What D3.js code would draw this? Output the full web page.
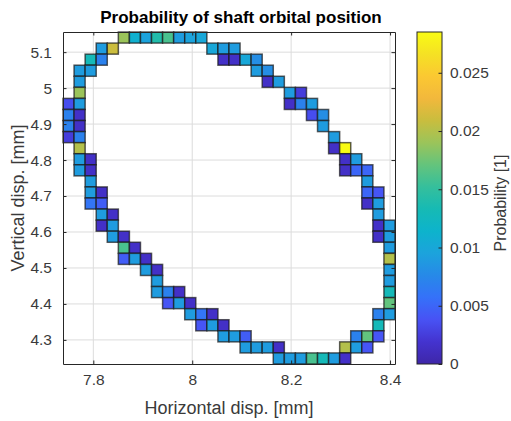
<!DOCTYPE html>
<html>
<head>
<meta charset="utf-8">
<script src="https://cdn.jsdelivr.net/npm/d3@7"></script>
<style>
	body{margin:0; background:#fff;}
	svg text{font-family:'Liberation Sans', Arial, sans-serif;}
</style>
</head>
<body>
<div id="chart"></div>
<script>
// histogram bins (30 x 30) of shaft centre position
const xEdgeFirst = 7.7387, xBinWidth = 0.022377;
const yEdgeFirst = 4.2330, yBinWidth = 0.030767;

// column index, row index (from bottom) and probability of each non-empty bin
const binCol = [
	5, 6, 7, 8, 9, 10, 11, 12,
	3, 4, 13, 14, 15,
	2, 3, 14, 15, 16, 17,
	1, 2, 17, 18,
	1, 18, 19,
	1, 20, 21,
	0, 1, 20, 21, 22,
	0, 1, 22, 23,
	0, 1, 23,
	0, 1, 24,
	1, 24, 25,
	1, 2, 25, 26,
	1, 2, 25, 26, 27,
	2, 27,
	2, 3, 27, 28,
	2, 3, 27, 28,
	3, 4, 28,
	3, 4, 28, 29,
	4, 5, 28, 29,
	5, 6, 29,
	5, 6, 7, 29,
	7, 8, 29,
	8, 29,
	8, 9, 10, 29,
	9, 10, 11, 29,
	11, 12, 13, 28, 29,
	12, 13, 14, 28,
	14, 15, 16, 26, 27, 28,
	16, 17, 18, 19, 25, 26, 27,
	19, 20, 21, 22, 23, 24, 25
];
const binRow = [
	29, 29, 29, 29, 29, 29, 29, 29,
	28, 28, 28, 28, 28,
	27, 27, 27, 27, 27, 27,
	26, 26, 26, 26,
	25, 25, 25,
	24, 24, 24,
	23, 23, 23, 23, 23,
	22, 22, 22, 22,
	21, 21, 21,
	20, 20, 20,
	19, 19, 19,
	18, 18, 18, 18,
	17, 17, 17, 17, 17,
	16, 16,
	15, 15, 15, 15,
	14, 14, 14, 14,
	13, 13, 13,
	12, 12, 12, 12,
	11, 11, 11, 11,
	10, 10, 10,
	9, 9, 9, 9,
	8, 8, 8,
	7, 7,
	6, 6, 6, 6,
	5, 5, 5, 5,
	4, 4, 4, 4, 4,
	3, 3, 3, 3,
	2, 2, 2, 2, 2, 2,
	1, 1, 1, 1, 1, 1, 1,
	0, 0, 0, 0, 0, 0, 0
];
const binProb = [
	0.019, 0.011, 0.0095, 0.014, 0.016, 0.009, 0.0095, 0.010,
	0.009, 0.021, 0.010, 0.009, 0.009,
	0.013, 0.007, 0.0015, 0.0015, 0.010, 0.008,
	0.009, 0.009, 0.009, 0.008,
	0.009, 0.0015, 0.009,
	0.019, 0.009, 0.0025,
	0.0035, 0.009, 0.0015, 0.007, 0.009,
	0.007, 0.0015, 0.0035, 0.008,
	0.007, 0.0015, 0.009,
	0.0025, 0.007, 0.009,
	0.020, 0.0015, 0.0285,
	0.009, 0.0015, 0.0015, 0.009,
	0.009, 0.0015, 0.0015, 0.005, 0.005,
	0.009, 0.009,
	0.009, 0.0015, 0.005, 0.004,
	0.006, 0.0045, 0.0015, 0.009,
	0.009, 0.0015, 0.009,
	0.0015, 0.009, 0.0015, 0.009,
	0.009, 0.0015, 0.0015, 0.009,
	0.016, 0.0015, 0.009,
	0.0045, 0.009, 0.0015, 0.020,
	0.009, 0.0015, 0.009,
	0.009, 0.009,
	0.009, 0.007, 0.0015, 0.013,
	0.004, 0.009, 0.0015, 0.017,
	0.009, 0.006, 0.0015, 0.007, 0.009,
	0.004, 0.009, 0.0015, 0.013,
	0.009, 0.009, 0.0045, 0.007, 0.017, 0.004,
	0.009, 0.009, 0.009, 0.0015, 0.020, 0.009, 0.004,
	0.009, 0.009, 0.009, 0.016, 0.013, 0.009, 0.0015
];

const xTicks = [7.8, 8, 8.2, 8.4];
const yTicks = [4.3, 4.4, 4.5, 4.6, 4.7, 4.8, 4.9, 5, 5.1];
const cTicks = [0, 0.005, 0.01, 0.015, 0.02, 0.025];
const cMax = 0.0285;

// parula-like colour stops
const parulaStops = ['#3e26a8', '#4433cf', '#4852f4', '#3571f9', '#2789e8', '#1ca3dc',
	'#0db3cc', '#16bab4', '#35bf9c', '#64c47c', '#9bc45a', '#c9bd3e', '#f2b83c',
	'#fbc832', '#f5e124', '#f9fb14'];

function drawChart(){
	let w = 511, h = 421,
		margin = {left:63, top:32},
		plotSize = 332;

	let svg = d3.select('#chart').append('svg').attr('width', w).attr('height', h);

	let nBins = 30;
	let scaleX = d3.scaleLinear()
		.domain([xEdgeFirst, xEdgeFirst + nBins*xBinWidth])
		.range([margin.left, margin.left + plotSize]);
	let scaleY = d3.scaleLinear()
		.domain([yEdgeFirst, yEdgeFirst + nBins*yBinWidth])
		.range([margin.top + plotSize, margin.top]);
	let colour = d3.scaleLinear()
		.domain(d3.range(parulaStops.length).map(k => k*cMax/(parulaStops.length - 1)))
		.range(parulaStops)
		.interpolate(d3.interpolateRgb)
		.clamp(true);

	let axisCol = '#262626', labelCol = '#3a3a3a';

	// grid lines under the tiles
	let grid = svg.append('g');
	grid.selectAll('.gx').data(xTicks).enter().append('line')
		.attr('x1', d => scaleX(d)).attr('x2', d => scaleX(d))
		.attr('y1', margin.top).attr('y2', margin.top + plotSize)
		.attr('stroke', '#dcdcdc').attr('stroke-width', 1);
	grid.selectAll('.gy').data(yTicks).enter().append('line')
		.attr('y1', d => scaleY(d)).attr('y2', d => scaleY(d))
		.attr('x1', margin.left).attr('x2', margin.left + plotSize)
		.attr('stroke', '#dcdcdc').attr('stroke-width', 1);

	// tiles
	let cells = binProb.map((p, k) => ({
		x0: xEdgeFirst + binCol[k]*xBinWidth,
		y0: yEdgeFirst + binRow[k]*yBinWidth,
		p: p
	}));
	svg.append('g').selectAll('rect').data(cells).enter().append('rect')
		.attr('x', d => scaleX(d.x0))
		.attr('y', d => scaleY(d.y0 + yBinWidth))
		.attr('width', d => scaleX(d.x0 + xBinWidth) - scaleX(d.x0))
		.attr('height', d => scaleY(d.y0) - scaleY(d.y0 + yBinWidth))
		.attr('fill', d => colour(d.p))
		.attr('stroke', '#1a1a1a')
		.attr('stroke-opacity', 0.7)
		.attr('stroke-width', 1.5);

	// axes: ticks inside, box on all sides
	let tickLen = 3.5;
	let xAxisB = d3.axisBottom(scaleX).tickValues(xTicks).tickSizeInner(-tickLen).tickSizeOuter(0).tickPadding(10).tickFormat(d3.format('~g'));
	let xAxisT = d3.axisTop(scaleX).tickValues(xTicks).tickSizeInner(-tickLen).tickSizeOuter(0).tickFormat('');
	let yAxisL = d3.axisLeft(scaleY).tickValues(yTicks).tickSizeInner(-tickLen).tickSizeOuter(0).tickPadding(11).tickFormat(d3.format('~g'));
	let yAxisR = d3.axisRight(scaleY).tickValues(yTicks).tickSizeInner(-tickLen).tickSizeOuter(0).tickFormat('');

	let gB = svg.append('g').attr('transform', 'translate(0,' + (margin.top + plotSize) + ')').call(xAxisB);
	let gT = svg.append('g').attr('transform', 'translate(0,' + margin.top + ')').call(xAxisT);
	let gL = svg.append('g').attr('transform', 'translate(' + margin.left + ',0)').call(yAxisL);
	let gR = svg.append('g').attr('transform', 'translate(' + (margin.left + plotSize) + ',0)').call(yAxisR);
	[gB, gT, gL, gR].forEach(function(g){
		g.select('.domain').attr('stroke', axisCol);
		g.selectAll('.tick line').attr('stroke', axisCol);
		g.selectAll('.tick text').attr('fill', labelCol).style('font-size', '15.5px');
	});

	// titles
	svg.append('text')
		.attr('x', 241).attr('y', 23)
		.attr('text-anchor', 'middle')
		.style('font-size', '17px').style('font-weight', 'bold')
		.attr('fill', '#000')
		.text('Probability of shaft orbital position');
	svg.append('text')
		.attr('x', margin.left + plotSize/2).attr('y', 414)
		.attr('text-anchor', 'middle')
		.style('font-size', '18px').attr('fill', labelCol)
		.text('Horizontal disp. [mm]');
	svg.append('text')
		.attr('transform', 'translate(24,' + (margin.top + plotSize/2) + ') rotate(-90)')
		.attr('text-anchor', 'middle')
		.style('font-size', '18px').attr('fill', labelCol)
		.text('Vertical disp. [mm]');

	// colorbar
	let cbX = 417, cbW = 25;
	let scaleC = d3.scaleLinear().domain([0, cMax]).range([margin.top + plotSize, margin.top]);
	let defs = svg.append('defs');
	let grad = defs.append('linearGradient').attr('id', 'parula')
		.attr('x1', 0).attr('x2', 0).attr('y1', 1).attr('y2', 0);
	grad.selectAll('stop').data(parulaStops).enter().append('stop')
		.attr('offset', (d, k) => k/(parulaStops.length - 1))
		.attr('stop-color', d => d);
	svg.append('rect')
		.attr('x', cbX).attr('y', margin.top)
		.attr('width', cbW).attr('height', plotSize)
		.attr('fill', 'url(#parula)')
		.attr('stroke', axisCol).attr('stroke-width', 1);
	let cAxis = d3.axisRight(scaleC).tickValues(cTicks).tickSizeInner(-tickLen).tickSizeOuter(0).tickPadding(8).tickFormat(d3.format('~g'));
	let gC = svg.append('g').attr('transform', 'translate(' + (cbX + cbW) + ',0)').call(cAxis);
	gC.select('.domain').remove();
	gC.selectAll('.tick line').attr('stroke', axisCol);
	gC.selectAll('.tick text').attr('fill', labelCol).style('font-size', '15.5px');
	svg.append('text')
		.attr('transform', 'translate(506,203) rotate(-90)')
		.attr('text-anchor', 'middle')
		.style('font-size', '16px').attr('fill', labelCol)
		.text('Probability [1]');
}

drawChart();
</script>
</body>
</html>
